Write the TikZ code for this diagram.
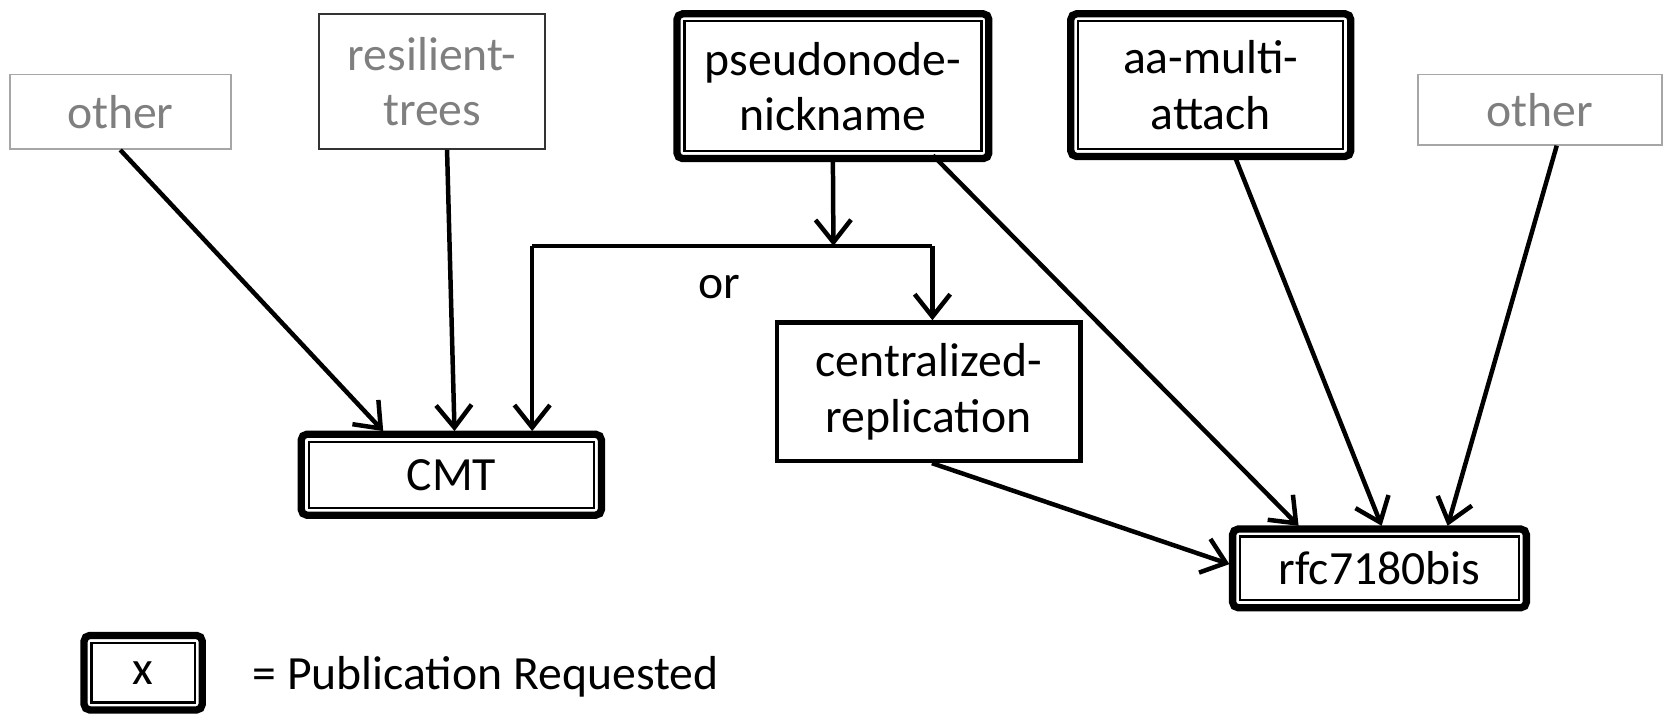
\documentclass[tikz,border=0pt]{standalone}
\usepackage{fontspec}
\setmainfont{Carlito}
\usetikzlibrary{arrows.meta}
\definecolor{greytext}{HTML}{7F7F7F}
\definecolor{greyline}{HTML}{A6A6A6}
\newcommand{\lowered}[1]{\raisebox{-0.1cm}{#1}}
\begin{document}
\begin{tikzpicture}[x=0.02cm,y=-0.02cm,
  every node/.style={font=\fontsize{25.5}{29.5}\selectfont, align=center, inner sep=0pt},
  greybox/.style={draw=greyline, line width=1pt, text=greytext},
  darkgreybox/.style={draw=black!80, line width=1pt, text=greytext},
  plainbox/.style={draw, line width=2.4pt},
  pubbox/.style={draw, line width=1.2pt, outer sep=0.2cm},
  outerframe/.style={line width=3.9pt, rounded corners=3pt},
  arr/.style={line width=2.4pt, -{Straight Barb[length=12pt,width=19pt]}},
  plainline/.style={line width=2.4pt}
]
\useasboundingbox (0,0) rectangle (1568,672);

% grey boxes
\node[greybox, minimum width=208*0.02cm, minimum height=70*0.02cm] (o1) at (113,105) {\lowered{other}};
\node[darkgreybox, minimum width=212*0.02cm, minimum height=127*0.02cm] (rt) at (406,76.5) {resilient-\\trees};
\node[greybox, minimum width=229*0.02cm, minimum height=66*0.02cm] (o2) at (1446.5,103) {\lowered{other}};

% publication requested boxes
\node[pubbox, minimum width=279*0.02cm, minimum height=122*0.02cm] (pn) at (782.5,81) {pseudonode-\\nickname};
\node[pubbox, minimum width=249*0.02cm, minimum height=120*0.02cm] (aa) at (1137.5,80) {aa-multi-\\attach};
\node[pubbox, minimum width=268*0.02cm, minimum height=62*0.02cm] (cmt) at (424,446) {\lowered{CMT}};
\node[pubbox, minimum width=262*0.02cm, minimum height=60*0.02cm] (rfc) at (1296,534) {\lowered{rfc7180bis}};
\node[pubbox, minimum width=97*0.02cm, minimum height=56*0.02cm] (leg) at (134.5,632) {\lowered{x}};
\foreach \n in {pn,aa,cmt,rfc,leg}
  \draw[outerframe] ([shift={(3,3)}]\n.north west) rectangle ([shift={(-3,-3)}]\n.south east);

% plain box
\node[plainbox, minimum width=285*0.02cm, minimum height=130*0.02cm] (cr) at (872.5,368) {centralized-\\replication};

% legend text
\node[anchor=west] (legtext) at (237,636) {= Publication Requested};

% connectors
\coordinate (split) at (783,231);
\coordinate (cl) at (500,231);
\coordinate (crr) at (876,231);
\draw[arr] (pn.south) -- (split);
\draw[plainline] (cl) -- (crr);
\draw[arr] (cl) -- (cl |- cmt.north);
\draw[arr] (crr) -- (crr |- cr.north);
\node (or) at (676,270) {or};

\draw[arr] (o1.south) -- ([shift={(80,0)}]cmt.north west);
\draw[arr] ([shift={(14,0)}]rt.south) -- ([shift={(3,0)}]cmt.north);
\draw[arr] ([shift={(94,-6)}]pn.south) -- ([shift={(65,0)}]rfc.north west);
\draw[arr] ([shift={(23,-2)}]aa.south) -- ([shift={(2,0)}]rfc.north);
\draw[arr] ([shift={(16,0)}]o2.south) -- ([shift={(64,0)}]rfc.north);
\draw[arr] ([shift={(3,0)}]cr.south) -- ([shift={(0,-4)}]rfc.west);
\end{tikzpicture}
\end{document}
